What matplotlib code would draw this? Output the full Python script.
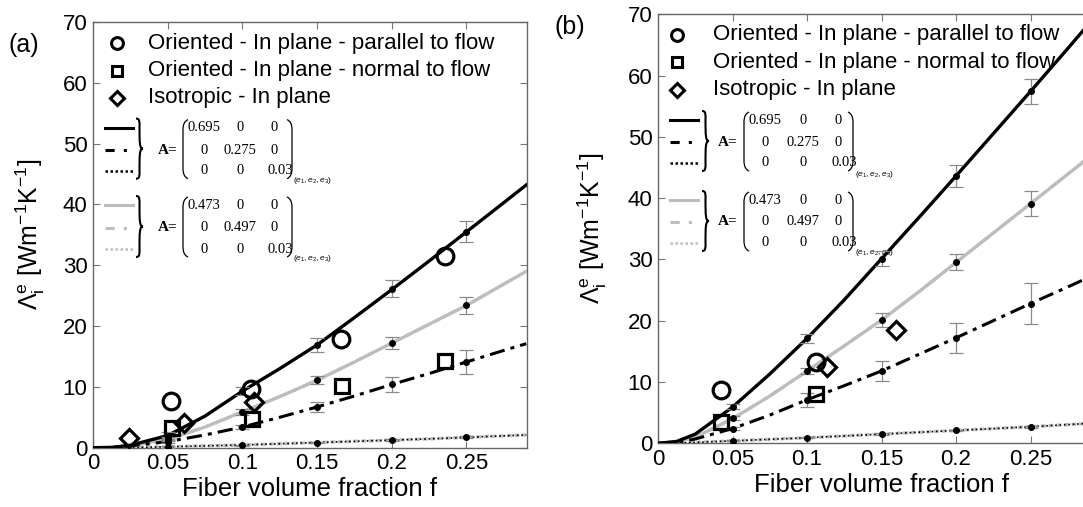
import numpy as np
import matplotlib
matplotlib.use("Agg")
import matplotlib.pyplot as plt
from matplotlib.path import Path
from matplotlib.patches import PathPatch
from matplotlib.lines import Line2D

plt.rcParams['font.family'] = ['Liberation Sans', 'DejaVu Sans']
plt.rcParams['mathtext.fontset'] = 'custom'
plt.rcParams['mathtext.rm'] = 'Liberation Sans'
plt.rcParams['mathtext.it'] = 'Liberation Sans:italic'

# ---------------- data ----------------
# model curves, panel (a)
f_curve_a = [0, 0.0125, 0.025, 0.05, 0.075, 0.1, 0.125, 0.15, 0.175, 0.2, 0.225, 0.25, 0.275, 0.29]
a_par_black = [0, 0.05, 0.4, 2.0, 5.2, 9.3, 13.0, 16.9, 21.4, 26.0, 30.7, 35.5, 40.3, 43.2]
a_nor_black = [0, 0.03, 0.3, 1.0, 2.1, 3.4, 5.0, 6.7, 8.5, 10.4, 12.2, 14.1, 16.0, 17.1]
a_par_gray = [0, 0.03, 0.3, 1.4, 3.4, 5.9, 8.4, 11.1, 14.1, 17.2, 20.3, 23.4, 26.9, 29.0]
a_nor_gray = [0, 0.03, 0.3, 1.4, 3.4, 5.9, 8.4, 11.1, 14.1, 17.2, 20.3, 23.4, 26.9, 29.0]
a_out = [0, 0.0, 0.03, 0.15, 0.3, 0.45, 0.65, 0.85, 1.05, 1.25, 1.45, 1.7, 1.95, 2.1]

# model curves, panel (b)
f_curve_b = [0, 0.0125, 0.025, 0.05, 0.075, 0.1, 0.125, 0.15, 0.175, 0.2, 0.225, 0.25, 0.275, 0.3]
b_par_black = [0, 0.3, 1.5, 5.9, 11.3, 17.1, 23.4, 30.1, 36.8, 43.6, 50.5, 57.4, 64.4, 71.5]
b_nor_black = [0, 0.15, 0.7, 2.4, 4.6, 7.1, 9.4, 11.8, 14.5, 17.2, 20.0, 22.8, 25.5, 28.3]
b_par_gray = [0, 0.2, 1.0, 4.0, 7.7, 11.8, 15.9, 20.1, 24.7, 29.5, 34.3, 39.1, 43.9, 48.7]
b_nor_gray = [0, 0.2, 1.0, 4.0, 7.7, 11.8, 15.9, 20.1, 24.7, 29.5, 34.3, 39.1, 43.9, 48.7]
b_out = [0, 0.02, 0.15, 0.4, 0.65, 0.9, 1.2, 1.5, 1.8, 2.1, 2.4, 2.7, 3.05, 3.4]

# simulated points with error bars
f_pts = [0.05, 0.1, 0.15, 0.2, 0.25]
a_pts_par = [2.0, 9.3, 16.9, 26.1, 35.5]
a_err_par = [0.5, 0.6, 1.1, 1.4, 1.75]
a_pts_gray = [1.4, 5.9, 11.1, 17.2, 23.4]
a_err_gray = [0.3, 0.5, 0.7, 1.0, 1.4]
a_pts_nor = [1.0, 3.4, 6.7, 10.4, 14.1]
a_err_nor = [0.3, 0.4, 0.8, 1.2, 1.9]
a_pts_out = [0.1, 0.4, 0.85, 1.25, 1.7]
a_err_out = [0.1, 0.1, 0.1, 0.15, 0.15]

b_pts_par = [6.0, 17.1, 30.1, 43.6, 57.4]
b_err_par = [0.4, 0.8, 1.2, 1.85, 2.0]
b_pts_gray = [4.1, 11.8, 20.1, 29.5, 39.1]
b_err_gray = [0.3, 0.5, 1.2, 1.3, 2.1]
b_pts_nor = [2.4, 7.1, 11.8, 17.2, 22.8]
b_err_nor = [0.3, 1.1, 1.7, 2.5, 3.4]
b_pts_out = [0.4, 0.9, 1.5, 2.1, 2.7]
b_err_out = [0.1, 0.1, 0.15, 0.15, 0.2]

# measurements
a_circ_f = [0.0522, 0.1058, 0.1663, 0.2355]
a_circ_v = [7.7, 9.6, 17.9, 31.5]
a_sq_f = [0.0527, 0.1062, 0.167, 0.2355]
a_sq_v = [3.3, 4.7, 10.1, 14.2]
a_dia_f = [0.0243, 0.0611, 0.1078]
a_dia_v = [1.6, 4.0, 7.5]

b_circ_f = [0.0423, 0.1058]
b_circ_v = [8.7, 13.3]
b_sq_f = [0.0423, 0.1058]
b_sq_v = [3.5, 8.0]
b_dia_f = [0.1132, 0.160]
b_dia_v = [12.4, 18.5]

legend_labels = ['Oriented - In plane - parallel to flow',
                 'Oriented - In plane - normal to flow',
                 'Isotropic - In plane']
matrix_1 = [['0.695', '0', '0'], ['0', '0.275', '0'], ['0', '0', '0.03']]
matrix_2 = [['0.473', '0', '0'], ['0', '0.497', '0'], ['0', '0', '0.03']]

# ---------------- figure ----------------
W, H = 1083, 507
fig = plt.figure(figsize=(W / 100, H / 100), dpi=100)

GRAY = '#bdbdbd'
DASHDOT = (0, (5, 2, 1.3, 2))


def fp(x, y):
    return (x / W, 1 - y / H)


def make_axes(left, top, right, bottom):
    x0, y0 = fp(left, bottom)
    x1, y1 = fp(right, top)
    ax = fig.add_axes([x0, y0, x1 - x0, y1 - y0])
    return ax


def style_axes(ax, xmax):
    ax.set_xlim(0, xmax)
    ax.set_ylim(0, 70)
    ax.set_xticks([0, 0.05, 0.1, 0.15, 0.2, 0.25])
    ax.set_xticklabels(['0', '0.05', '0.1', '0.15', '0.2', '0.25'])
    ax.set_yticks(range(0, 71, 10))
    ax.tick_params(direction='in', top=True, right=True, length=5,
                   color='#777777', labelsize=16, pad=4)
    for s in ax.spines.values():
        s.set_color('#666666')
        s.set_linewidth(1.0)
    ax.set_xlabel('Fiber volume fraction f', fontsize=18.5, labelpad=2)
    ax.set_ylabel(r'Λ$_\mathrm{i}^\mathrm{e}$ [Wm$^{-1}$K$^{-1}$]', fontsize=18)


def draw_data(ax, fc, par_b, nor_b, par_g, nor_g, out, pts, circ, sq, dia):
    ax.plot(fc, out, color=GRAY, lw=2.4, ls=(0, (1.5, 0.8)), zorder=3)
    ax.plot(fc, out, color='black', lw=1.2, ls=':', zorder=3)
    ax.plot(fc, nor_g, color=GRAY, lw=2.2, ls=DASHDOT, zorder=3)
    ax.plot(fc, par_g, color=GRAY, lw=2.4, zorder=3)
    ax.plot(fc, nor_b, color='black', lw=2.2, ls=DASHDOT, zorder=4)
    ax.plot(fc, par_b, color='black', lw=2.4, zorder=4)
    for vals, errs in pts:
        ax.errorbar(f_pts, vals, yerr=errs, fmt='o', color='black', ms=4,
                    ecolor='#8a8a8a', elinewidth=0.9, capsize=5, capthick=0.9, zorder=5)
    ax.plot(circ[0], circ[1], 'o', ms=12, mfc='none', mec='black', mew=2.3, zorder=6)
    ax.plot(sq[0], sq[1], 's', ms=10, mfc='none', mec='black', mew=2.3, zorder=6)
    ax.plot(dia[0], dia[1], 'D', ms=9, mfc='none', mec='black', mew=2.3, zorder=6)


def fig_line(ax, xs, ys, **kw):
    pts = [fp(x, y) for x, y in zip(xs, ys)]
    ln = Line2D([p[0] for p in pts], [p[1] for p in pts], transform=fig.transFigure,
                clip_on=False, **kw)
    ax.add_line(ln)


def fig_path(ax, verts, codes, lw=1.1):
    v = [fp(x, y) for x, y in verts]
    patch = PathPatch(Path(v, codes), transform=fig.transFigure, fill=False,
                      lw=lw, color='black', clip_on=False)
    ax.add_patch(patch)


def brace(ax, x, ytop, ybot, w=7):
    ym = (ytop + ybot) / 2
    C = Path.CURVE4
    verts = [(x, ytop), (x + w * 0.6, ytop), (x + w * 0.5, ytop + 4), (x + w * 0.5, ytop + 8),
             (x + w * 0.5, ym - 6), (x + w * 0.5, ym), (x + w, ym),
             (x + w * 0.5, ym), (x + w * 0.5, ym + 6), (x + w * 0.5, ybot - 8),
             (x + w * 0.5, ybot - 4), (x + w * 0.6, ybot), (x, ybot)]
    codes = [Path.MOVETO, C, C, C, C, C, C, C, C, C, C, C, C]
    fig_path(ax, verts, codes, lw=1.5)


def paren(ax, x, ytop, ybot, side):
    s = 1 if side == 'left' else -1
    C = Path.CURVE3
    verts = [(x + s * 5, ytop), (x, ytop + 2), (x, ytop + 10), (x, ybot - 10),
             (x, ybot - 2), (x + s * 5, ybot)]
    codes = [Path.MOVETO, C, C, Path.LINETO, C, C]
    fig_path(ax, verts, codes, lw=0.9)


def legend_block(ax, mx, tx, rows_y, blocks):
    for (marker, ms), lab, y in zip([('o', 8.5), ('s', 7.5), ('D', 7)], legend_labels, rows_y):
        fig_line(ax, [mx], [y], marker=marker, ms=ms, mfc='none', mec='black', mew=2.2, ls='none')
        tx_, ty_ = fp(tx, y)
        ax.text(tx_, ty_, lab, transform=fig.transFigure, fontsize=16, va='center',
                ha='left', zorder=1)
    for b in blocks:
        color, x0, x1, ys, bx, ax_eq, cols, rp, lp, sub, mat = b
        fig_line(ax, [x0, x1], [ys[0]] * 2, color=color, lw=2.2)
        fig_line(ax, [x0, x1], [ys[1]] * 2, color=color, lw=2.2, ls=(0, (3, 3, 1, 3, 1, 3)))
        fig_line(ax, [x0, x1], [ys[2]] * 2, color=color, lw=1.8, ls=(0, (1, 1)))
        brace(ax, bx, ys[0] - 9, ys[2] + 8)
        ex, ey = fp(ax_eq, ys[1])
        ax.text(ex, ey, 'A=', transform=fig.transFigure, fontsize=11, va='center', ha='left',
                family='Liberation Serif', weight='bold')
        paren(ax, lp, ys[0] - 8, ys[2] + 8, 'left')
        paren(ax, rp, ys[0] - 8, ys[2] + 8, 'right')
        for r in range(3):
            for c in range(3):
                px, py = fp(cols[c] + (6 if (r == 2 and c == 2) else 0), ys[r])
                ax.text(px, py, mat[r][c], transform=fig.transFigure, fontsize=10.5,
                        va='center', ha='center', family='Liberation Serif')
        sx, sy = fp(sub[0], sub[1])
        ax.text(sx, sy, r'$(e_1,e_2,e_3)$', transform=fig.transFigure, fontsize=6,
                va='center', ha='left', family='Liberation Serif')


# panel (a)
ax1 = make_axes(93, 22, 527, 447.7)
style_axes(ax1, 0.2905)
draw_data(ax1, f_curve_a, a_par_black, a_nor_black, a_par_gray, a_nor_gray, a_out,
          [(a_pts_par, a_err_par), (a_pts_gray, a_err_gray), (a_pts_nor, a_err_nor),
           (a_pts_out, a_err_out)],
          (a_circ_f, a_circ_v), (a_sq_f, a_sq_v), (a_dia_f, a_dia_v))
legend_block(ax1, 117, 148, [43, 70.7, 98], [
    ('black', 104.5, 132.8, [127.6, 150, 170.7], 136, 158, [204, 240, 274], 292, 183,
     (293, 181), matrix_1),
    (GRAY, 104.5, 132.8, [205, 227.6, 249], 136, 158, [204, 240, 274], 292, 183,
     (293, 258), matrix_2)])
ax1.yaxis.set_label_coords(-0.105, 0.5)
fig.text(*fp(8, 45), '(a)', fontsize=18, va='center', ha='left')

# panel (b)
ax2 = make_axes(658, 14.2, 1105, 443.3)
style_axes(ax2, 0.3)
draw_data(ax2, f_curve_b, b_par_black, b_nor_black, b_par_gray, b_nor_gray, b_out,
          [(b_pts_par, b_err_par), (b_pts_gray, b_err_gray), (b_pts_nor, b_err_nor),
           (b_pts_out, b_err_out)],
          (b_circ_f, b_circ_v), (b_sq_f, b_sq_v), (b_dia_f, b_dia_v))
legend_block(ax2, 677, 713, [34.6, 62.3, 90], [
    ('black', 670, 697.5, [120, 142, 163], 702, 718, [765, 803, 838], 853, 744,
     (855, 175), matrix_1),
    (GRAY, 670, 697.5, [200, 221.6, 243], 702, 718, [765, 803, 838], 853, 744,
     (855, 252), matrix_2)])
ax2.yaxis.set_label_coords(-0.11, 0.5)
fig.text(*fp(555, 27), '(b)', fontsize=18, va='center', ha='left')

fig.savefig('out.png', dpi=100)
